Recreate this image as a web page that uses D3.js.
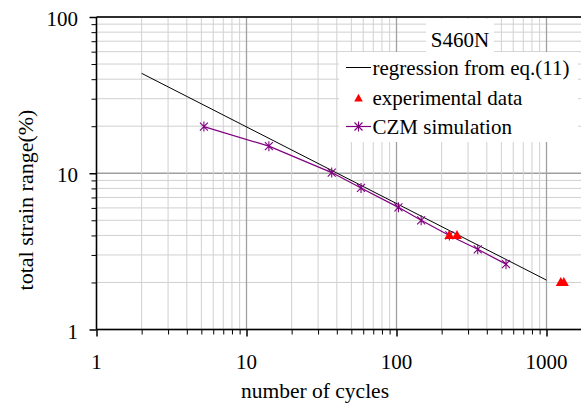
<!DOCTYPE html>
<html>
<head>
<meta charset="utf-8">
<script src="https://cdn.jsdelivr.net/npm/d3@7"></script>
<style>
  body { margin: 0; background: #fff; }
  text { font-family: "Liberation Serif", "Times New Roman", serif; fill: #000; }
</style>
</head>
<body>
<div id="chart"></div>
<script>
// chart size
var svgWidth = 581;
var svgHeight = 403;

// data
var regressionN = [2, 1000];
var regressionStrain = [43.6, 2.07];

var expN = [225, 253, 1245, 1305];
var expStrain = [4.0, 4.0, 2.0, 2.0];

var czmN = [5.2, 14.1, 37, 58, 103, 146, 225, 348, 537];
var czmStrain = [19.9, 14.9, 10.1, 8.05, 6.05, 5.0, 4.0, 3.26, 2.62];

var xTickLabels = [1, 10, 100, 1000];
var yTickLabels = [1, 10, 100];

var legendTitle = 'S460N';
var legendLabels = ['regression from eq.(11)', 'experimental data', 'CZM simulation'];

var purple = '#800080';

// plot area (right side runs off the picture)
var plotLeft = 96.5, plotTop = 17, plotBottom = 329.5;

var xScale = d3.scaleLog().domain([1, 1000]).range([plotLeft, plotLeft + 450]);
var yScale = d3.scaleLog().domain([1, 100]).range([plotBottom, plotTop]);

// minor + major tick values inside full decades
function logTicks(lo, hi) {
    var out = [];
    for (var p = lo; p < hi; p *= 10) {
        for (var k = 1; k < 10; k++) out.push(p * k);
    }
    out.push(hi);
    return out;
}
var xTicks = logTicks(1, 1000);
var yTicks = logTicks(1, 100);
var isMajor = v => Math.abs(Math.log10(v) - Math.round(Math.log10(v))) < 1e-9;

var svg = d3.select('#chart').append('svg')
    .attr('width', svgWidth)
    .attr('height', svgHeight);

// gridlines
var grid = svg.append('g');
grid.selectAll('.hgrid')
    .data(yTicks)
    .enter().append('line')
    .attr('x1', plotLeft).attr('x2', svgWidth)
    .attr('y1', d => yScale(d)).attr('y2', d => yScale(d))
    .attr('stroke', d => isMajor(d) ? '#a0a0a0' : '#d0d0d0')
    .attr('stroke-width', d => isMajor(d) ? 1.3 : 1);
grid.selectAll('.vgrid')
    .data(xTicks)
    .enter().append('line')
    .attr('x1', d => xScale(d)).attr('x2', d => xScale(d))
    .attr('y1', plotTop).attr('y2', plotBottom)
    .attr('stroke', d => isMajor(d) ? '#a0a0a0' : '#d0d0d0')
    .attr('stroke-width', d => isMajor(d) ? 1.3 : 1);

// axes
var xAxis = d3.axisBottom(xScale).tickValues(xTicks)
    .tickSize(5).tickFormat('');
var yAxis = d3.axisLeft(yScale).tickValues(yTicks)
    .tickSize(5).tickFormat('');

var xAxisG = svg.append('g')
    .attr('transform', `translate(0, ${plotBottom})`)
    .call(xAxis);
xAxisG.select('.domain').remove();
xAxisG.selectAll('.tick line')
    .attr('stroke', '#000')
    .attr('y2', d => isMajor(d) ? 7 : 5)
    .attr('stroke-width', d => isMajor(d) ? 1.5 : 1);

var yAxisG = svg.append('g')
    .attr('transform', `translate(${plotLeft}, 0)`)
    .call(yAxis);
yAxisG.select('.domain').remove();
yAxisG.selectAll('.tick line')
    .attr('stroke', '#000')
    .attr('x2', d => isMajor(d) ? -7 : -5)
    .attr('stroke-width', d => isMajor(d) ? 1.5 : 1);

// frame lines
svg.append('line').attr('x1', plotLeft).attr('x2', svgWidth).attr('y1', plotBottom).attr('y2', plotBottom)
    .attr('stroke', '#000').attr('stroke-width', 1.5);
svg.append('line').attr('x1', plotLeft).attr('x2', svgWidth).attr('y1', plotTop).attr('y2', plotTop)
    .attr('stroke', '#000').attr('stroke-width', 1.5);
svg.append('line').attr('x1', plotLeft).attr('x2', plotLeft).attr('y1', plotTop).attr('y2', plotBottom)
    .attr('stroke', '#000').attr('stroke-width', 1.5);

// tick labels
svg.selectAll('.xlab')
    .data(xTickLabels)
    .enter().append('text')
    .attr('x', d => xScale(d))
    .attr('y', 369)
    .attr('text-anchor', 'middle')
    .style('font-size', '21px')
    .text(d => d);
svg.selectAll('.ylab')
    .data(yTickLabels)
    .enter().append('text')
    .attr('x', 78)
    .attr('y', d => yScale(d) + 9)
    .attr('text-anchor', 'end')
    .style('font-size', '21px')
    .text(d => d);

// axis titles
svg.append('text')
    .attr('x', 315).attr('y', 397.5)
    .attr('text-anchor', 'middle')
    .style('font-size', '21.5px')
    .text('number of cycles');
svg.append('text')
    .attr('transform', 'translate(33, 200) rotate(-90)')
    .attr('text-anchor', 'middle')
    .style('font-size', '22px')
    .text('total strain range(%)');

// series
var line = d3.line().x(d => xScale(d[0])).y(d => yScale(d[1]));

svg.append('path')
    .datum(d3.zip(regressionN, regressionStrain))
    .attr('d', line)
    .attr('fill', 'none')
    .attr('stroke', '#000')
    .attr('stroke-width', 1);

svg.append('path')
    .datum(d3.zip(czmN, czmStrain))
    .attr('d', line)
    .attr('fill', 'none')
    .attr('stroke', purple)
    .attr('stroke-width', 1.2);

var starPath = 'M-4,-4L4,4M-4,4L4,-4M0,-5L0,5';
var triPath = 'M0,-5.5L5,3.5L-5,3.5Z';

svg.selectAll('.czm')
    .data(d3.zip(czmN, czmStrain))
    .enter().append('path')
    .attr('transform', d => `translate(${xScale(d[0])}, ${yScale(d[1])})`)
    .attr('d', starPath)
    .attr('fill', 'none')
    .attr('stroke', purple)
    .attr('stroke-width', 1.1);

svg.selectAll('.exp')
    .data(d3.zip(expN, expStrain))
    .enter().append('path')
    .attr('transform', d => `translate(${xScale(d[0])}, ${yScale(d[1])})`)
    .attr('d', triPath)
    .attr('fill', '#ff0000');

// legend
var legend = svg.append('g');
legend.append('rect')
    .attr('x', 426).attr('y', 19).attr('width', 68).attr('height', 34)
    .attr('fill', '#fff');
legend.append('rect')
    .attr('x', 339).attr('y', 52).attr('width', 239).attr('height', 90)
    .attr('fill', '#fff');
legend.append('text')
    .attr('x', 460).attr('y', 46.5)
    .attr('text-anchor', 'middle')
    .style('font-size', '21px')
    .text(legendTitle);

var rowY = [75, 105, 134];
legendLabels.forEach((lab, i) => {
    var cy = rowY[i] - 7.5;
    if (i === 0) {
        legend.append('line').attr('x1', 346).attr('x2', 371).attr('y1', cy).attr('y2', cy)
            .attr('stroke', '#000').attr('stroke-width', 1);
    } else if (i === 1) {
        legend.append('path').attr('transform', `translate(358.5, ${cy + 1}) scale(0.85)`)
            .attr('d', triPath).attr('fill', '#ff0000');
    } else {
        legend.append('line').attr('x1', 346).attr('x2', 371).attr('y1', cy).attr('y2', cy)
            .attr('stroke', purple).attr('stroke-width', 1.2);
        legend.append('path').attr('transform', `translate(358.5, ${cy})`)
            .attr('d', starPath).attr('fill', 'none')
            .attr('stroke', purple).attr('stroke-width', 1.1);
    }
    legend.append('text')
        .attr('x', 372.5).attr('y', rowY[i])
        .style('font-size', '21px')
        .text(lab);
});
</script>
</body>
</html>
